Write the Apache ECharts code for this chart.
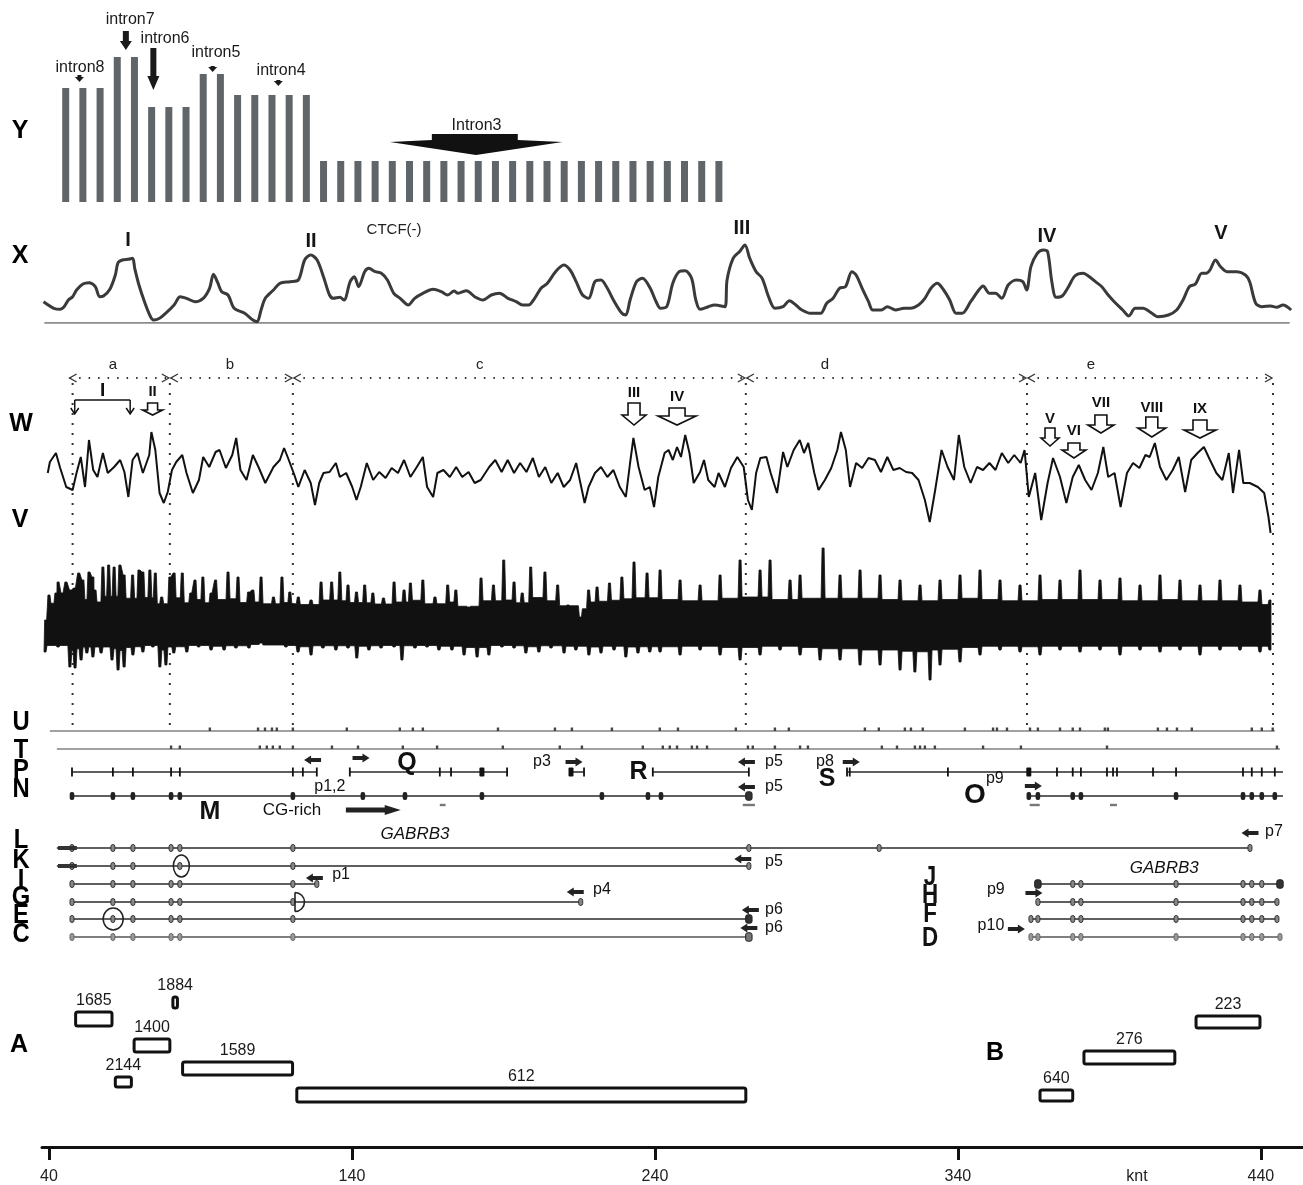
<!DOCTYPE html>
<html><head><meta charset="utf-8">
<script src="https://cdn.jsdelivr.net/npm/echarts@6.0.0/dist/echarts.min.js"></script>
<style>html,body{margin:0;padding:0;background:#fff}#chart{width:1303px;height:1185px}</style>
</head><body><div id="chart"></div>
<script>
const FONT = "'Liberation Sans', Arial, Helvetica, sans-serif";
// ---------- shared genomic axis (knt) ----------
const KMIN = 37.7, KMAX = 453.9;
const axisTicks = [40, 140, 240, 340, 440];
const axisUnit = { value: 399.1, text: 'knt' };

// ---------- Y : intron bins ----------
const binHeights = [114,114,114,145,145,95,95,95,128,128,107,107,107,107,107,
  41,41,41,41,41,41,41,41,41,41,41,41,41,41,41,41,41,41,41,41,41,41,41,41];
const intronLabels = [
  { t: 'intron8', bin: 0.83, h: 134 }, { t: 'intron7', bin: 3.75, h: 182 },
  { t: 'intron6', bin: 5.78, h: 163 }, { t: 'intron5', bin: 8.74, h: 149 },
  { t: 'intron4', bin: 12.53, h: 131 }, { t: 'Intron3', bin: 23.9, h: 76 }
];
const intronArrows = [
  { bin: 0.8, from: 127, to: 120 }, { bin: 3.5, from: 171, to: 152 },
  { bin: 5.1, from: 154, to: 112 }, { bin: 8.55, from: 136, to: 130 },
  { bin: 12.37, from: 122, to: 116 }
];
const intron3Shape = [[21.3,68],[26.3,68],[26.3,62],[28.9,60],[23.87,47],[18.86,60],[21.3,62]];

// ---------- X : CTCF(-) profile ----------
const ctcf = [[38.2,21.3],[41.6,14.7],[43.7,13.7],[45.0,16.3],[46.4,23],[47.8,26.3],[49.1,33],[51.2,39],[53.2,40.3],[55.3,36.3],[56.7,26.3],[58.0,27],[60.1,33.7],[61.9,48],[62.8,60.3],[64.2,63],[66.2,63.7],[67.6,64.7],[68.3,54.7],[69.7,38],[71.7,19.7],[73.4,7],[74.5,3],[76.5,4.7],[78.5,9.7],[81.3,18],[83.3,26.3],[85.4,24.7],[88.2,21.3],[90.9,24.7],[93.0,34.7],[94.3,48.7],[95.7,40.3],[97.0,31.3],[99.1,28],[101.1,14.7],[104.6,9.7],[107.3,3],[108.7,1.3],[110.0,13],[111.4,24.7],[114.1,33],[116.2,39.7],[119.6,41.3],[122.3,43],[124.4,63],[126.4,68],[128.5,63],[130.6,46.3],[132.6,28],[133.9,24.7],[136.0,25.7],[137.4,23],[139.4,41.3],[140.8,46.3],[142.2,36.3],[144.2,51.3],[145.6,54.7],[147.7,51.3],[149.7,49.7],[151.7,43],[153.8,29.7],[155.9,24.7],[158.6,18],[160.7,24.7],[163.4,29.7],[166.8,33.7],[169.5,31.3],[171.6,28],[173.7,32],[175.0,29.7],[177.8,32.3],[180.5,26.3],[183.2,23],[186.0,28],[188.7,29.7],[191.5,24.7],[194.2,21.3],[196.3,18],[198.3,18],[200.3,24.7],[202.4,34.7],[204.5,39.7],[207.2,51.3],[209.9,58],[212.0,53],[214.0,41.3],[216.1,28],[218.1,24.7],[220.2,41.3],[222.2,43],[224.3,34.7],[226.3,23],[229.1,9.7],[230.4,8],[231.8,23],[233.9,41.3],[235.9,44.7],[238.4,35],[240.4,21.3],[241.8,14.7],[243.9,16.3],[245.9,39.7],[248.0,51.3],[250.0,52.3],[252.1,44.7],[253.5,23],[254.9,13.7],[257.6,16.3],[259.7,18],[263.1,16.3],[263.8,43],[265.8,64.7],[267.9,71.3],[269.7,78],[271.3,64.7],[273.4,51.3],[275.4,44.7],[277.5,26.3],[279.6,14.7],[282.3,16.3],[284.4,22.3],[286.5,18],[288.5,13],[291.3,9.7],[294.7,9.7],[296.7,19.7],[298.8,24.7],[300.9,34.7],[302.9,36.3],[305.0,51.3],[306.4,48],[308.4,34.7],[310.5,21.3],[311.9,13],[314.7,13],[316.7,16.3],[319.4,13],[322.2,14.7],[324.3,14.7],[327.0,18],[329.1,24.7],[331.1,34.7],[333.2,39.7],[335.3,33],[337.3,23],[339.4,9.7],[341.4,9.7],[344.2,21.3],[346.9,33],[348.3,37],[350.4,29.7],[352.4,29.7],[354.5,24.7],[356.6,38],[359.3,43],[361.4,41.3],[362.7,33],[364.1,56.3],[366.2,69.7],[368.2,73],[369.6,71.3],[371.0,41.3],[372.4,25.7],[374.4,27],[376.5,36.3],[378.6,47],[381.3,49.7],[383.4,46.3],[385.4,41.3],[387.5,36.3],[389.6,28],[391.6,21.3],[394.4,13],[396.4,7],[398.5,14.7],[401.2,14.7],[403.3,11.3],[406.0,6.3],[409.5,8],[412.2,13],[414.3,23],[416.4,36.3],[418.4,39],[420.5,49.7],[421.9,49.7],[423.2,53],[425.0,63],[426.7,56.3],[428.8,51.3],[432.2,51.3],[434.9,48],[436.3,41.3],[438.3,19.7],[440.4,16.3],[443.2,17],[445.2,15.7],[447.3,18],[450.0,13]];
const ctcfBaseline = [38.5, 449.5];
const ctcfPeaks = [{ t: 'I', k: 66.1, v: 83 }, { t: 'II', k: 126.5, v: 82 }, { t: 'III', k: 268.7, v: 95 }, { t: 'IV', k: 369.4, v: 87 }, { t: 'V', k: 426.8, v: 90 }];
const ctcfNote = { t: 'CTCF(-)', k: 153.9, v: 93 };

// ---------- W profile ----------
const wProfile = [[39.6,67],[40.3,78],[42.3,87],[43.7,72],[45.7,53],[47.8,50],[49.1,67],[50.5,83],[51.9,53],[53.2,100],[54.6,70],[56.0,63],[57.8,87],[59.4,67],[61.5,73],[63.5,80],[64.9,68],[66.2,43],[67.6,80],[69.2,87],[71.0,67],[73.1,85],[73.8,108],[75.1,90],[76.5,47],[77.9,37],[79.2,48],[80.6,70],[82.0,78],[84.0,85],[85.4,67],[87.5,47],[89.5,60],[90.9,83],[92.9,73],[95.0,88],[96.3,90],[98.4,72],[100.5,85],[101.8,102],[103.2,70],[105.2,60],[107.3,85],[109.3,72],[111.4,57],[114.1,73],[116.2,80],[117.6,92],[118.9,82],[121.0,65],[122.3,53],[124.4,70],[126.4,57],[127.8,35],[129.2,57],[130.6,67],[132.6,68],[134.7,77],[136.0,63],[138.1,67],[140.1,53],[141.5,40],[142.9,53],[144.9,77],[147.0,60],[149.0,68],[151.1,62],[153.1,72],[155.2,67],[157.2,80],[159.3,63],[161.4,73],[163.4,83],[164.8,53],[166.8,43],[168.2,67],[170.2,70],[172.3,63],[174.4,73],[176.4,63],[178.5,68],[180.5,57],[182.5,60],[185.3,73],[187.3,80],[189.4,68],[191.4,80],[193.5,67],[195.5,77],[197.6,68],[199.7,82],[201.7,63],[203.8,73],[205.8,57],[207.9,67],[209.9,53],[212.0,60],[214.0,77],[215.4,57],[216.8,37],[218.1,53],[220.2,67],[222.2,73],[224.3,63],[226.3,70],[228.4,53],[230.4,43],[231.8,77],[232.9,102],[234.6,73],[236.6,50],[238.3,53],[239.7,33],[241.1,63],[243.2,87],[244.5,90],[245.9,80],[247.3,93],[248.6,83],[250.0,105],[251.4,87],[252.8,57],[254.9,68],[256.2,80],[257.6,60],[259.7,53],[261.0,67],[263.1,53],[265.1,72],[267.2,83],[269.3,73],[270.7,40],[272.0,30],[273.4,67],[274.8,82],[276.8,83],[278.2,67],[280.3,47],[282.3,88],[283.7,73],[285.8,90],[287.8,100],[289.2,87],[290.6,97],[292.6,67],[294.0,50],[296.1,60],[298.2,72],[300.2,90],[301.4,108],[303.0,90],[304.4,53],[306.4,77],[308.4,72],[310.5,82],[312.6,80],[314.6,68],[316.7,83],[318.7,70],[320.8,72],[322.9,68],[324.9,67],[327.0,60],[329.1,40],[330.7,18],[332.5,50],[334.6,90],[336.6,73],[338.7,60],[340.3,105],[342.1,73],[344.2,57],[346.3,73],[348.3,70],[350.4,77],[352.4,70],[354.5,87],[356.6,77],[358.6,85],[360.7,77],[362.0,90],[363.4,43],[365.5,67],[367.5,20],[369.6,57],[371.4,82],[373.7,63],[375.8,37],[377.9,63],[379.9,75],[382.0,60],[384.1,50],[386.2,67],[388.0,93],[389.6,63],[391.7,67],[393.7,33],[395.8,67],[397.8,77],[399.9,72],[401.9,85],[403.3,83],[405.0,97],[406.7,73],[408.8,60],[410.9,70],[412.9,83],[415.0,48],[417.0,80],[419.1,87],[421.2,93],[423.2,80],[425.3,67],[427.3,60],[429.4,87],[430.8,47],[432.8,90],[434.2,57],[436.3,57],[439.0,53],[441.1,47],[442.5,23],[443.2,7]];
const wArrows = [
  { t: 'II', k: 74.2, lv: 148, y0: 137, ym: 130, y1: 125 },
  { t: 'III', k: 233.1, lv: 147, y0: 137, ym: 125, y1: 115 },
  { t: 'IV', k: 247.3, lv: 143, y0: 132, ym: 124, y1: 115 },
  { t: 'V', k: 370.4, lv: 121, y0: 112, ym: 102, y1: 94 },
  { t: 'VI', k: 378.3, lv: 109, y0: 97, ym: 90, y1: 82 },
  { t: 'VII', k: 387.2, lv: 137, y0: 125, ym: 115, y1: 107 },
  { t: 'VIII', k: 404.0, lv: 132, y0: 123, ym: 112, y1: 103 },
  { t: 'IX', k: 419.9, lv: 131, y0: 120, ym: 110, y1: 102 }
];
const wArrowSize = { II: [10, 5], III: [12, 6], IV: [19, 8], V: [9, 5], VI: [12, 6], VII: [13, 6], VIII: [14, 6], IX: [16, 7] };
const wBracket = { t: 'I', from: 48.5, to: 66.8, v: 140, tipV: 126, k: 57.7, lv: 149 };

// ---------- V profile (upper / lower envelope) ----------
const vTop = [[38.9,65],[40.0,90],[42.3,92],[43.0,103],[44.3,92],[45.6,103],[47.1,95],[48.4,97],[49.8,112],[51.2,105],[53.2,113],[54.5,108],[55.2,95],[57.8,118],[59.7,120],[61.5,118],[63.4,120],[64.8,110],[67.6,110],[69.7,115],[71.0,113],[73.3,115],[75.1,112],[77.2,88],[79.9,108],[81.3,112],[84.0,112],[86.8,92],[88.2,105],[90.8,108],[93.5,92],[95.0,105],[99.1,113],[102.4,108],[105.9,93],[107.3,95],[110.0,108],[114.1,88],[116.9,108],[119.5,93],[122.3,88],[126.5,85],[129.8,103],[133.3,103],[136.0,113],[138.7,100],[141.5,93],[144.2,100],[146.9,92],[150.4,87],[153.9,103],[157.2,95],[159.3,102],[163.4,105],[167.4,88],[171.6,100],[174.3,95],[178.5,78],[182.6,107],[186.7,100],[190.1,125],[193.5,103],[196.2,92],[199.0,118],[203.7,113],[207.9,100],[211.3,80],[215.4,68],[218.1,95],[220.9,98],[225.0,102],[229.1,108],[233.1,123],[237.4,112],[241.7,115],[248.3,105],[254.9,100],[261.5,110],[268.1,125],[274.7,115],[278.0,125],[284.6,105],[287.9,110],[295.5,137],[301.1,110],[307.7,115],[314.3,110],[320.9,105],[327.5,100],[334.1,105],[340.7,110],[347.3,115],[353.9,105],[360.5,100],[367.1,110],[373.7,105],[380.3,115],[386.9,105],[393.5,107],[400.1,100],[406.7,110],[413.3,105],[419.9,100],[426.5,105],[433.1,100],[439.7,95],[443.0,85]];
const vBottom = [[38.7,33],[43.0,38],[46.9,18],[48.6,17],[50.6,25],[52.5,32],[54.5,28],[57.2,32],[60.8,25],[62.8,15],[64.8,18],[67.7,30],[71.0,33],[74.3,38],[76.6,18],[78.6,20],[81.2,32],[85.5,33],[89.4,38],[93.5,35],[97.8,35],[101.7,37],[106.0,37],[110.0,42],[114.3,40],[118.2,38],[122.2,33],[126.5,30],[130.4,37],[134.7,35],[138.7,37],[141.6,27],[145.6,35],[149.6,37],[153.9,38],[156.5,25],[160.8,37],[164.8,38],[168.7,35],[173.0,35],[177.0,30],[181.3,28],[185.2,30],[189.5,38],[193.5,37],[197.4,32],[201.7,33],[205.7,37],[210.0,32],[213.9,35],[218.2,30],[222.2,32],[226.5,35],[230.4,28],[234.4,32],[238.3,33],[241.7,33],[248.3,30],[254.9,35],[261.5,30],[268.1,25],[274.7,30],[281.3,35],[287.9,30],[294.5,25],[301.1,25],[307.7,20],[314.3,20],[320.9,15],[325.8,13],[330.8,5],[334.1,20],[340.7,23],[347.3,30],[353.9,35],[360.5,33],[367.1,30],[373.7,35],[380.3,33],[386.9,35],[393.5,30],[400.1,35],[406.7,33],[413.3,35],[419.9,30],[426.5,35],[433.1,35],[439.7,33],[443.0,35]];
const vCore = { top: 79, bottom: 40 };

// ---------- regions a-e ----------
const regionBounds = [47.8, 79.9, 120.5, 270.0, 362.8, 444.0];
const regionNames = ['a', 'b', 'c', 'd', 'e'];
const regionNameK = [61.1, 99.7, 182.2, 296.1, 383.9];

// ---------- U / T rows ----------
const uSpan = [40.3, 444.6];
const uTicks = [93.1,109.0,111.3,113.6,115.2,120.5,138.3,155.8,160.1,163.4,188.2,207.0,212.6,225.8,241.6,247.6,266.7,279.6,284.2,309.3,313.9,322.5,324.5,328.4,342.3,351.6,352.9,356.2,363.8,366.4,373.7,377.9,380.3,388.5,389.5,406.0,409.0,412.3,417.2,437.0,440.3,443.9];
const tSpan = [42.6, 446.3];
const tTicks = [80.3,83.2,109.6,111.9,113.9,116.2,120.5,133.4,142.0,156.8,168.1,189.8,208.6,215.9,236.0,242.6,244.9,247.3,252.2,253.9,257.2,270.7,272.3,279.6,287.9,290.5,314.9,319.9,325.8,327.5,329.1,332.4,348.3,360.8,389.2,445.3];

// ---------- transcripts ----------
const genes = [
  { row: 'P', from: 47.6, to: 128.4, exons: [47.6,61.1,67.7,80.3,83.2,120.5,123.8,128.4], big: [] },
  { row: 'P', from: 139.3, to: 191.2, exons: [139.3,169.0,172.7,191.2], big: [182.9] },
  { row: 'P', from: 212.3, to: 216.6, exons: [216.6], big: [212.3] },
  { row: 'P', from: 239.3, to: 271.0, exons: [239.3,271.0], big: [] },
  { row: 'P', from: 303.4, to: 447.3, exons: [303.4,304.3,336.7,372.7,377.9,380.6,389.2,391.2,392.5,404.4,412.0,434.1,437.0,440.3,444.6], big: [363.4] },
  { row: 'N', from: 47.6, to: 271.0, exons: [47.6,61.1,67.7,80.3,83.2,120.5,143.6,157.5,182.9,222.5,237.7,242.0], big: [271.0] },
  { row: 'N', from: 363.4, to: 447.3, exons: [363.4,366.4,377.9,380.6,412.0,434.1,437.0,440.3,444.6], big: [] },
  { row: 'L', from: 42.6, to: 436.4, exons: [47.6,61.1,67.7,80.3,83.2,120.5,271.0,314.0,436.4], big: [] },
  { row: 'K', from: 42.6, to: 271.0, exons: [47.6,61.1,67.7,83.2,120.5,271.0], big: [] },
  { row: 'I', from: 47.6, to: 128.4, exons: [47.6,61.1,67.7,80.3,83.2,120.5,128.4], big: [] },
  { row: 'G', from: 47.6, to: 215.5, exons: [47.6,61.1,67.7,80.3,83.2,120.5,215.5], big: [] },
  { row: 'E', from: 47.6, to: 271.0, exons: [47.6,61.1,67.7,80.3,83.2,120.5], big: [271.0] },
  { row: 'C', from: 47.6, to: 271.0, exons: [47.6,61.1,67.7,80.3,83.2,120.5], big: [271.0] },
  { row: 'I', from: 366.4, to: 446.3, exons: [377.9,380.6,412.0,434.1,437.0,440.3], big: [366.4,446.3] },
  { row: 'G', from: 366.4, to: 445.3, exons: [366.4,377.9,380.6,412.0,434.1,437.0,440.3,445.3], big: [] },
  { row: 'E', from: 364.1, to: 445.3, exons: [364.1,366.4,377.9,380.6,412.0,434.1,437.0,440.3,445.3], big: [] },
  { row: 'C', from: 364.1, to: 446.3, exons: [364.1,366.4,377.9,380.6,412.0,434.1,437.0,440.3,446.3], big: [] }
];
const thickEnds = [{ row: 'L', from: 42.97, to: 49.2 }, { row: 'K', from: 42.97, to: 49.2 }];
const nDashes = [[169.0,170.9],[269.0,273.0],[363.7,367.0],[390.2,392.5]];
const exonCircles = [{ row: 'K', k: 83.7 }, { row: 'E', k: 61.2 }];
const halfCircle = { row: 'G', k: 121.2 };
const trackTexts = [
  { t: 'Q', k: 158.2, v: 63, s: 25, b: 1 }, { t: 'p1,2', k: 132.7, v: 87 }, { t: 'p3', k: 202.7, v: 62 },
  { t: 'R', k: 234.6, v: 72, s: 25, b: 1 }, { t: 'p5', k: 279.3, v: 62 }, { t: 'p5', k: 279.3, v: 87 },
  { t: 'p8', k: 296.1, v: 62 }, { t: 'S', k: 296.8, v: 79, s: 25, b: 1 }, { t: 'M', k: 93.1, v: 112, s: 25, b: 1 },
  { t: 'CG-rich', k: 120.2, v: 110, s: 17 }, { t: 'GABRB3', k: 160.8, v: 134, s: 17, i: 1 },
  { t: 'O', k: 345.6, v: 95, s: 28, b: 1 }, { t: 'p9', k: 352.2, v: 79 }, { t: 'p7', k: 444.3, v: 132 },
  { t: 'p5', k: 279.3, v: 162 }, { t: 'p1', k: 136.4, v: 175 }, { t: 'p4', k: 222.5, v: 190 },
  { t: 'p6', k: 279.3, v: 210 }, { t: 'p6', k: 279.3, v: 228 }, { t: 'GABRB3', k: 408.1, v: 168, s: 17, i: 1 },
  { t: 'p9', k: 352.5, v: 190 }, { t: 'p10', k: 350.9, v: 226 },
  { t: 'J', k: 330.8, v: 177, s: 28, b: 1, nx: 1 }, { t: 'H', k: 330.8, v: 195, s: 28, b: 1, nx: 1 },
  { t: 'F', k: 330.8, v: 214, s: 28, b: 1, nx: 1 }, { t: 'D', k: 330.8, v: 238, s: 28, b: 1, nx: 1 }
];
const trackArrows = [[127.0,60,-1],[143.0,58,1],[213.3,62,1],[270.2,62,-1],[270.2,87,-1],[304.8,62,1],[364.9,86,1],[436.4,133,-1],[269.0,159,-1],[127.6,178,-1],[213.7,192,-1],[271.5,210,-1],[271.0,228,-1],[365.1,193,1],[359.3,229,1]];
const cgRichArrow = { from: 138.0, to: 156.1, v: 110 };

// ---------- A / B fragments ----------
const boxNames = ['1685', '1884', '1400', '2144', '1589', '612', '640', '276', '223'];
const boxStart = [48.8, 80.9, 68.1, 61.9, 84.1, 121.8, 367.1, 381.6, 418.6];
const boxEnd = [60.8, 82.4, 79.9, 67.2, 120.4, 270.0, 377.9, 411.6, 439.7];
const boxTop = [32, 17, 59, 97, 82, 108, 110, 71, 36];
const boxBottom = [46, 28, 72, 107, 95, 122, 121, 84, 48];

// ---------- layout (pixels) ----------
const rowV = { U: 31, T: 49, P: 72, N: 96, L: 148, K: 166, I: 184, G: 202, E: 219, C: 237 };
const sideLetters = [
  ['Y', 20, 131, 25, 1], ['X', 20, 256, 25, 1], ['W', 21, 424, 25, 1], ['V', 20, 520, 25, 1],
  ['U', 21, 722, 28, 0.85], ['T', 21, 750, 28, 0.85], ['P', 21, 770, 28, 0.85], ['N', 21, 789, 28, 0.85],
  ['L', 21, 840, 28, 0.85], ['K', 21, 860, 28, 0.85], ['I', 21, 880, 28, 0.85], ['G', 21, 897, 28, 0.85],
  ['E', 21, 915, 28, 0.85], ['C', 21, 934, 28, 0.85], ['A', 19, 1045, 25, 1], ['B', 995, 1053, 25, 1]
];

// ---------- helpers ----------
function fnt(o) { return (o.i ? 'italic ' : '') + (o.b ? 'bold ' : '') + (o.s || 16) + 'px ' + FONT; }
function txt(x, y, t, o) { o = o || {}; const e = { type: 'text', x: x, y: y, style: { text: t, fill: o.fill || '#111', font: fnt(o), align: o.align || 'center', verticalAlign: 'middle' } }; if (o.nx) { e.scaleX = 0.8; } return e; }
function poly(pts, fill, stroke, lw) { return { type: 'polygon', shape: { points: pts }, style: { fill: fill, stroke: stroke || null, lineWidth: lw || 0 } }; }
function pline(pts, stroke, lw) { return { type: 'polyline', shape: { points: pts }, style: { fill: null, stroke: stroke, lineWidth: lw } }; }
function ln(x1, y1, x2, y2, stroke, lw, dash) { return { type: 'line', shape: { x1: x1, y1: y1, x2: x2, y2: y2 }, style: { stroke: stroke, lineWidth: lw, lineDash: dash || null } }; }
function rc(x, y, w, h, fill, stroke, lw, r) { return { type: 'rect', shape: { x: x, y: y, width: w, height: h, r: r || 0 }, style: { fill: fill, stroke: stroke || null, lineWidth: lw || 0 } }; }
function downArrow(cx, y0, y1, sw, hw, hl) { const b = y1 - hl; return [[cx - sw, y0], [cx + sw, y0], [cx + sw, b], [cx + hw, b], [cx, y1], [cx - hw, b], [cx - sw, b]]; }
function hArrow(cx, cy, dir, len, sh, hh, hl) { len = len || 17; sh = sh || 2; hh = hh || 4.5; hl = hl || 7; const t = cx - dir * len / 2, tip = cx + dir * len / 2, b = tip - dir * hl; return [[t, cy - sh], [b, cy - sh], [b, cy - hh], [tip, cy], [b, cy + hh], [b, cy + sh], [t, cy + sh]]; }

// ---------- render functions ----------
function renderIntrons(params, api) {
  const c = (b, h) => api.coord([b, h]);
  const ch = [];
  intronLabels.forEach(l => { const p = c(l.bin, l.h); ch.push(txt(p[0], p[1], l.t, { s: 16, fill: '#1a1a1a' })); });
  intronArrows.forEach(a => {
    const p0 = c(a.bin, a.from), p1 = c(a.bin, a.to); const len = p1[1] - p0[1];
    const big = len > 12;
    ch.push(poly(downArrow(p0[0], p0[1], p1[1], big ? 3 : 2, big ? 6 : 4.5, big ? (len > 30 ? 14 : 9) : 5), '#1a1a1a'));
  });
  ch.push(poly(intron3Shape.map(q => c(q[0], q[1])), '#111'));
  return { type: 'group', children: ch };
}
function renderCtcfNotes(params, api) {
  const ch = [];
  ctcfPeaks.forEach(p => { const q = api.coord([p.k, p.v]); ch.push(txt(q[0], q[1], p.t, { s: 20, b: 1, fill: '#151515' })); });
  const n = api.coord([ctcfNote.k, ctcfNote.v]); ch.push(txt(n[0], n[1], ctcfNote.t, { s: 15, fill: '#222' }));
  return { type: 'group', children: ch };
}
function renderWNotes(params, api) {
  const ch = [];
  const c = (k, v) => api.coord([k, v]);
  wArrows.forEach(a => {
    const s = wArrowSize[a.t]; const p0 = c(a.k, a.y0), pm = c(a.k, a.ym), p1 = c(a.k, a.y1); const cx = p0[0];
    ch.push(poly([[cx - s[1], p0[1]], [cx + s[1], p0[1]], [cx + s[1], pm[1]], [cx + s[0], pm[1]], [cx, p1[1]], [cx - s[0], pm[1]], [cx - s[1], pm[1]]], '#fff', '#111', 1.6));
    const l = c(a.k, a.lv); ch.push(txt(l[0], l[1], a.t, { s: 15, b: 1 }));
  });
  const b0 = c(wBracket.from, wBracket.v), b1 = c(wBracket.to, wBracket.v), bt = c(wBracket.from, wBracket.tipV);
  ch.push(ln(b0[0], b0[1], b1[0], b1[1], '#111', 1.5));
  [b0[0], b1[0]].forEach(x => { ch.push(ln(x, b0[1], x, bt[1], '#111', 1.5)); ch.push(pline([[x - 4, bt[1] - 6], [x, bt[1]], [x + 4, bt[1] - 6]], '#111', 1.5)); });
  const bl = c(wBracket.k, wBracket.lv); ch.push(txt(bl[0], bl[1], wBracket.t, { s: 19, b: 1 }));
  return { type: 'group', children: ch };
}
// comb-shaped envelope: a narrow spike at every read sample, troughs between samples near the dense core
function combEdge(api, pts, core) {
  const out = [];
  for (let i = 0; i < pts.length; i++) {
    const p = api.coord(pts[i]);
    out.push([p[0] - 1, p[1]], [p[0] + 1, p[1]]);
    if (i < pts.length - 1) {
      const n = api.coord(pts[i + 1]);
      const near = Math.abs(pts[i][1] - core) < Math.abs(pts[i + 1][1] - core) ? pts[i][1] : pts[i + 1][1];
      const trough = api.coord([pts[i][0], core + (near - core) * 0.25])[1];
      if (n[0] - p[0] > 5) { out.push([p[0] + 2, trough], [n[0] - 2, trough]); }
    }
  }
  return out;
}
function renderV(params, api) {
  const top = combEdge(api, vTop, vCore.top);
  const bot = combEdge(api, vBottom, vCore.bottom).reverse();
  return { type: 'group', children: [poly(top.concat(bot), '#111', '#111', 0.8)] };
}
function renderRegions(params, api) {
  const ch = [];
  const c = (k, v) => api.coord([k, v]);
  const rowY = c(KMIN, 18)[1];
  regionBounds.forEach(k => { const t = c(k, 23), b = c(k, 370); ch.push(ln(t[0], t[1], b[0], b[1], '#333', 2, [2, 8])); });
  for (let i = 0; i < regionNames.length; i++) {
    const x0 = c(regionBounds[i], 0)[0] - 3, x1 = c(regionBounds[i + 1], 0)[0] + 0;
    const xa = (i === 0 ? x0 : x0 + 4), xb = x1 - 1;
    ch.push(ln(xa, rowY, xb, rowY, '#333', 2, [1.5, 8]));
    ch.push(pline([[xa + 7, rowY - 4], [xa, rowY], [xa + 7, rowY + 4]], '#333', 1.3));
    ch.push(pline([[xb - 7, rowY - 4], [xb, rowY], [xb - 7, rowY + 4]], '#333', 1.3));
    const l = c(regionNameK[i], 5); ch.push(txt(l[0], l[1], regionNames[i], { s: 15, fill: '#222' }));
  }
  return { type: 'group', children: ch };
}
function renderTracks(params, api) {
  const ch = [];
  const c = (k, v) => api.coord([k, v]);
  [[uSpan, uTicks, 'U'], [tSpan, tTicks, 'T']].forEach(([sp, tk, r]) => {
    const a = c(sp[0], rowV[r]), b = c(sp[1], rowV[r]);
    ch.push(ln(a[0], a[1], b[0], b[1], '#444', 1.2));
    tk.forEach(k => { const p = c(k, rowV[r]); ch.push(rc(p[0] - 1.2, p[1] - 3.5, 2.4, 3.5, '#444')); });
  });
  genes.forEach(g => {
    const a = c(g.from, rowV[g.row]), b = c(g.to, rowV[g.row]); const y = a[1];
    ch.push(ln(a[0], y, b[0], y, g.row === 'C' ? '#555' : '#2a2a2a', 1.5));
    g.exons.forEach(k => {
      const x = c(k, 0)[0];
      if (g.row === 'P') ch.push(rc(x - 0.9, y - 4.5, 1.8, 9, '#111'));
      else if (g.row === 'N') ch.push(rc(x - 2.3, y - 4, 4.6, 8, '#222', null, 0, 2));
      else ch.push(rc(x - 2, y - 3.5, 4, 7, g.row === 'C' ? '#999' : '#888', g.row === 'C' ? '#666' : '#333', 1, 2));
    });
    g.big.forEach(k => {
      const x = c(k, 0)[0];
      if (g.row === 'P') ch.push(rc(x - 2.5, y - 4.5, 5, 9, '#111', null, 0, 1));
      else ch.push(rc(x - 3.2, y - 4.2, 6.4, 8.4, g.row === 'C' ? '#777' : '#333', '#222', 1, 2));
    });
  });
  thickEnds.forEach(t => { const a = c(t.from, rowV[t.row]), b = c(t.to, rowV[t.row]); ch.push(ln(a[0], a[1], b[0], b[1], '#333', 4)); });
  nDashes.forEach(d => { const a = c(d[0], rowV.N + 9), b = c(d[1], rowV.N + 9); ch.push(rc(a[0], a[1] - 1.2, Math.max(b[0] - a[0], 5), 2.4, '#777')); });
  exonCircles.forEach(e => { const p = c(e.k, rowV[e.row]); ch.push({ type: 'ellipse', shape: { cx: p[0], cy: p[1], rx: e.row === 'K' ? 8 : 10, ry: 11 }, style: { fill: null, stroke: '#222', lineWidth: 1.5 } }); });
  { const p = c(halfCircle.k, rowV[halfCircle.row]); ch.push(ln(p[0], p[1] - 9.5, p[0], p[1] + 9.5, '#222', 1.6)); ch.push({ type: 'arc', shape: { cx: p[0], cy: p[1], r: 9.5, startAngle: -Math.PI / 2, endAngle: Math.PI / 2 }, style: { fill: null, stroke: '#222', lineWidth: 1.6 } }); }
  trackTexts.forEach(t => { const p = c(t.k, t.v); ch.push(txt(p[0], p[1], t.t, { s: t.s || 16, b: t.b, i: t.i, nx: t.nx, fill: '#111' })); });
  trackArrows.forEach(a => { const p = c(a[0], a[1]); ch.push(poly(hArrow(p[0], p[1], a[2]), '#222')); });
  { const a = c(cgRichArrow.from, cgRichArrow.v), b = c(cgRichArrow.to, cgRichArrow.v); const y = a[1];
    ch.push(poly([[a[0], y - 2.5], [b[0] - 16, y - 2.5], [b[0] - 16, y - 5], [b[0], y], [b[0] - 16, y + 5], [b[0] - 16, y + 2.5], [a[0], y + 2.5]], '#222')); }
  return { type: 'group', children: ch };
}
function renderBox(params, api) {
  const p0 = api.coord([api.value(0), api.value(2)]), p1 = api.coord([api.value(1), api.value(3)]);
  const name = boxNames[api.value(4)];
  return { type: 'group', children: [
    rc(p0[0], p0[1], p1[0] - p0[0], p1[1] - p0[1], '#fff', '#111', 3, 2),
    txt((p0[0] + p1[0]) / 2, p0[1] - 11, name, { s: 16, fill: '#1a1a1a' })
  ] };
}

// ---------- chart ----------
const chart = echarts.init(document.getElementById('chart'), null, { renderer: 'canvas' });
const gFull = (top, height) => ({ left: 42, right: 0, top: top, height: height });
const hiddenX = (gi) => ({ gridIndex: gi, type: 'value', min: KMIN, max: KMAX, show: false });
chart.setOption({
  animation: false,
  backgroundColor: '#ffffff',
  grid: [
    { left: 57.1, width: 670.4, top: 50, height: 152 },
    gFull(220, 103), gFull(380, 160), gFull(545, 140), gFull(360, 372), gFull(700, 250), gFull(980, 167)
  ],
  xAxis: [
    { gridIndex: 0, type: 'value', min: -0.5, max: 38.5, show: false },
    hiddenX(1), hiddenX(2), hiddenX(3), hiddenX(4), hiddenX(5),
    { gridIndex: 6, type: 'value', min: KMIN, max: KMAX, splitLine: { show: false },
      axisLine: { show: true, onZero: false, lineStyle: { color: '#111', width: 3 } },
      axisTick: { show: true, customValues: axisTicks, length: 13, inside: false, lineStyle: { color: '#111', width: 3 } },
      axisLabel: { show: true, customValues: axisTicks.concat([axisUnit.value]), margin: 22, color: '#222', fontSize: 16, fontFamily: FONT,
        formatter: v => (Math.abs(v - axisUnit.value) < 0.01 ? axisUnit.text : String(v)) } }
  ],
  yAxis: [
    { gridIndex: 0, type: 'value', min: 0, max: 152, show: false },
    { gridIndex: 1, type: 'value', min: 0, max: 103, show: false },
    { gridIndex: 2, type: 'value', min: 0, max: 160, show: false },
    { gridIndex: 3, type: 'value', min: 0, max: 140, show: false },
    { gridIndex: 4, type: 'value', min: 0, max: 372, inverse: true, show: false },
    { gridIndex: 5, type: 'value', min: 0, max: 250, inverse: true, show: false },
    { gridIndex: 6, type: 'value', min: 0, max: 167, inverse: true, show: false }
  ],
  graphic: sideLetters.map(l => ({ type: 'text', x: l[1], y: l[2], scaleX: l[4], style: { text: l[0], fill: '#000', font: 'bold ' + l[3] + 'px ' + FONT, align: 'center', verticalAlign: 'middle' } })),
  series: [
    { type: 'bar', xAxisIndex: 0, yAxisIndex: 0, barWidth: 7, data: binHeights.map((h, i) => [i, h]), itemStyle: { color: '#5f6569' }, silent: true },
    { type: 'custom', xAxisIndex: 0, yAxisIndex: 0, clip: false, data: [[0, 0]], renderItem: renderIntrons, silent: true },
    { type: 'line', xAxisIndex: 1, yAxisIndex: 1, data: ctcfBaseline.map(k => [k, 0]), symbol: 'none', lineStyle: { color: '#666', width: 1.5 }, silent: true },
    { type: 'line', xAxisIndex: 1, yAxisIndex: 1, data: ctcf, symbol: 'none', smooth: 0.3, lineStyle: { color: '#3a3a3a', width: 3 }, silent: true },
    { type: 'custom', xAxisIndex: 1, yAxisIndex: 1, clip: false, data: [[KMIN, 0]], renderItem: renderCtcfNotes, silent: true },
    { type: 'custom', xAxisIndex: 4, yAxisIndex: 4, clip: false, data: [[KMIN, 0]], renderItem: renderRegions, silent: true },
    { type: 'line', xAxisIndex: 2, yAxisIndex: 2, data: wProfile, symbol: 'none', lineStyle: { color: '#111', width: 2 }, silent: true },
    { type: 'custom', xAxisIndex: 2, yAxisIndex: 2, clip: false, data: [[KMIN, 0]], renderItem: renderWNotes, silent: true },
    { type: 'custom', xAxisIndex: 3, yAxisIndex: 3, clip: false, data: [[KMIN, 0]], renderItem: renderV, silent: true },
    { type: 'custom', xAxisIndex: 5, yAxisIndex: 5, clip: false, data: [[KMIN, 0]], renderItem: renderTracks, silent: true },
    { type: 'custom', xAxisIndex: 6, yAxisIndex: 6, clip: false, silent: true,
      data: boxNames.map((n, i) => [boxStart[i], boxEnd[i], boxTop[i], boxBottom[i], i]),
      encode: { x: [0, 1], y: [2, 3] }, renderItem: renderBox }
  ]
});
</script></body></html>
